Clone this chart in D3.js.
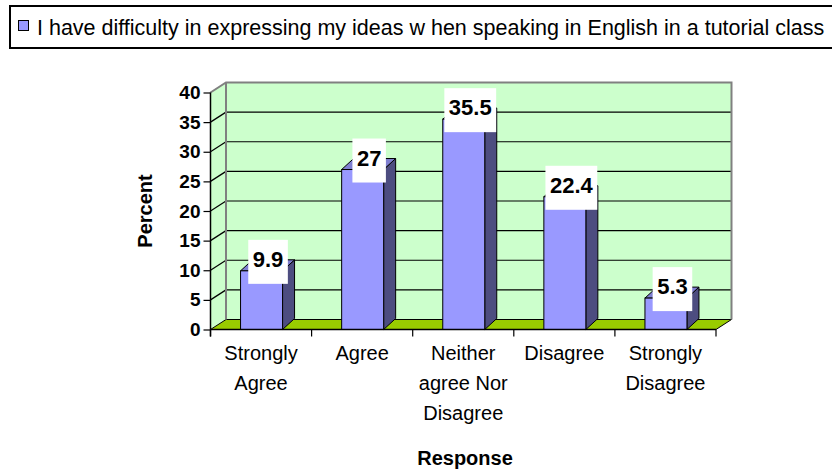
<!DOCTYPE html>
<html>
<head>
<meta charset="utf-8">
<script src="https://cdn.jsdelivr.net/npm/d3@7"></script>
<style>
  body { margin: 0; background: #fff; }
  svg { display: block; font-family: "Liberation Sans", Arial, sans-serif; }
</style>
</head>
<body>
<div id="chart"></div>
<script>
// chart data
const categories = [["Strongly", "Agree"], ["Agree"], ["Neither", "agree Nor", "Disagree"], ["Disagree"], ["Strongly", "Disagree"]];
const values = [9.9, 27, 35.5, 22.4, 5.3];
const yTicks = [0, 5, 10, 15, 20, 25, 30, 35, 40];
const seriesName = "I have difficulty in expressing my ideas w hen speaking in English in a tutorial class";

const width = 832, height = 470;
const plotLeft = 210.5, plotRight = 716, plotBottom = 329.5, plotTop = 92.5;
const wallDx = 15.5, wallDy = -10;   // depth of back wall
const barDx = 12, barDy = -11;       // depth of each column

const svg = d3.select("#chart").append("svg")
  .attr("width", width)
  .attr("height", height);

const x = d3.scaleBand()
  .domain(d3.range(categories.length))
  .range([plotLeft, plotRight]);

const y = d3.scaleLinear()
  .domain([0, 40])
  .range([plotBottom, plotTop]);

// back wall
svg.append("rect")
  .attr("x", plotLeft + wallDx).attr("y", plotTop + wallDy)
  .attr("width", plotRight - plotLeft).attr("height", plotBottom - plotTop)
  .attr("fill", "#ccffcc");

// side wall
svg.append("path")
  .attr("d", `M${plotLeft},${plotTop}L${plotLeft + wallDx},${plotTop + wallDy}L${plotLeft + wallDx},${plotBottom + wallDy}L${plotLeft},${plotBottom}Z`)
  .attr("fill", "#ccffcc");

// floor
svg.append("path")
  .attr("d", `M${plotLeft},${plotBottom}L${plotLeft + wallDx},${plotBottom + wallDy}L${plotRight + wallDx},${plotBottom + wallDy}L${plotRight},${plotBottom}Z`)
  .attr("fill", "#99cc00")
  .attr("stroke", "#000").attr("stroke-width", 1);

// gridlines
const grid = yTicks.filter(t => t > 0 && t < 40);
svg.selectAll("line.grid")
  .data(grid)
  .enter().append("line")
  .attr("class", "grid")
  .attr("x1", plotLeft + wallDx).attr("x2", plotRight + wallDx)
  .attr("y1", d => y(d) + wallDy).attr("y2", d => y(d) + wallDy)
  .attr("stroke", "#000").attr("stroke-width", 1.2);

svg.selectAll("line.gridside")
  .data(grid)
  .enter().append("line")
  .attr("class", "gridside")
  .attr("x1", plotLeft).attr("x2", plotLeft + wallDx)
  .attr("y1", d => y(d)).attr("y2", d => y(d) + wallDy)
  .attr("stroke", "#000").attr("stroke-width", 1.2);

// wall borders (grey)
svg.append("path")
  .attr("d", `M${plotLeft},${plotTop}L${plotLeft + wallDx},${plotTop + wallDy}L${plotRight + wallDx},${plotTop + wallDy}L${plotRight + wallDx},${plotBottom + wallDy}`)
  .attr("fill", "none").attr("stroke", "#808080").attr("stroke-width", 2);
svg.append("line")
  .attr("x1", plotLeft + wallDx).attr("x2", plotLeft + wallDx)
  .attr("y1", plotTop + wallDy).attr("y2", plotBottom + wallDy)
  .attr("stroke", "#808080").attr("stroke-width", 2);

// columns
const barW = 42;
const bars = svg.selectAll("g.bar")
  .data(values)
  .enter().append("g")
  .attr("class", "bar");

const bx = (d, i) => x(i) + x.bandwidth() / 2 - barW / 2 + 0.5;

bars.append("path")
  .attr("d", (d, i) => {
    const x0 = bx(d, i) + barW, yt = y(d);
    return `M${x0},${plotBottom}L${x0 + barDx},${plotBottom + barDy}L${x0 + barDx},${yt + barDy}L${x0},${yt}Z`;
  })
  .attr("fill", "#4d4d80").attr("stroke", "#000").attr("stroke-width", 1);

bars.append("path")
  .attr("d", (d, i) => {
    const x0 = bx(d, i), yt = y(d);
    return `M${x0},${yt}L${x0 + barDx},${yt + barDy}L${x0 + barW + barDx},${yt + barDy}L${x0 + barW},${yt}Z`;
  })
  .attr("fill", "#7f7fd0").attr("stroke", "#000").attr("stroke-width", 1);

bars.append("rect")
  .attr("x", bx)
  .attr("y", d => y(d))
  .attr("width", barW)
  .attr("height", d => plotBottom - y(d))
  .attr("fill", "#9999ff").attr("stroke", "#000").attr("stroke-width", 1);

// value labels
bars.each(function(d, i) {
  const g = d3.select(this);
  const cx = bx(d, i) + barW / 2 + 6.5;
  const t = g.append("text")
    .attr("x", cx).attr("y", y(d) - 31 + 27)
    .attr("text-anchor", "middle")
    .attr("font-size", 22).attr("font-weight", "bold")
    .text(d);
  const w = t.node().getComputedTextLength() + 9;
  g.insert("rect", "text")
    .attr("x", cx - w / 2).attr("y", y(d) - 31)
    .attr("width", w).attr("height", 44)
    .attr("fill", "#fff");
});

// y axis
const yAxis = svg.append("g")
  .attr("transform", `translate(${plotLeft},0)`)
  .call(d3.axisLeft(y).tickValues(yTicks).tickSize(7).tickPadding(3));
yAxis.select(".domain").attr("stroke", "#000").attr("stroke-width", 1.5)
  .attr("d", `M0,${plotTop}V${plotBottom + 7}`);
yAxis.selectAll(".tick line").attr("stroke", "#000").attr("stroke-width", 1.2);
yAxis.selectAll(".tick text")
  .attr("font-family", "Liberation Sans, Arial, sans-serif")
  .attr("font-size", 19).attr("font-weight", "bold").attr("fill", "#000");

// x axis
const xAxis = svg.append("g")
  .attr("transform", `translate(0,${plotBottom})`);
xAxis.append("line")
  .attr("x1", plotLeft).attr("x2", plotRight)
  .attr("stroke", "#000").attr("stroke-width", 1.5);
xAxis.selectAll("line.tick")
  .data(d3.range(categories.length + 1))
  .enter().append("line")
  .attr("class", "tick")
  .attr("x1", i => plotLeft + i * x.bandwidth()).attr("x2", i => plotLeft + i * x.bandwidth())
  .attr("y1", 0).attr("y2", 7)
  .attr("stroke", "#000").attr("stroke-width", 1.2);

const catText = xAxis.selectAll("text.cat")
  .data(categories)
  .enter().append("text")
  .attr("class", "cat")
  .attr("text-anchor", "middle")
  .attr("font-size", 20)
  .attr("x", (d, i) => x(i) + x.bandwidth() / 2);
catText.selectAll("tspan")
  .data(d => d)
  .enter().append("tspan")
  .attr("x", function() { return d3.select(this.parentNode).attr("x"); })
  .attr("y", (d, j) => 30 + j * 30)
  .text(d => d);

// axis titles
svg.append("text")
  .attr("transform", "translate(152,211) rotate(-90)")
  .attr("text-anchor", "middle")
  .attr("font-size", 20).attr("font-weight", "bold")
  .text("Percent");

svg.append("text")
  .attr("x", 465).attr("y", 465)
  .attr("text-anchor", "middle")
  .attr("font-size", 20).attr("font-weight", "bold")
  .text("Response");

// legend
const legend = svg.append("g");
legend.append("rect")
  .attr("x", 10).attr("y", 6)
  .attr("width", 840).attr("height", 42)
  .attr("fill", "#fff").attr("stroke", "#000").attr("stroke-width", 2);
legend.append("rect")
  .attr("x", 18.5).attr("y", 20.5)
  .attr("width", 10).attr("height", 10)
  .attr("fill", "#9999ff").attr("stroke", "#000").attr("stroke-width", 1);
legend.append("text")
  .attr("x", 37).attr("y", 34.5)
  .attr("font-size", 21.5)
  .text(seriesName);
</script>
</body>
</html>
